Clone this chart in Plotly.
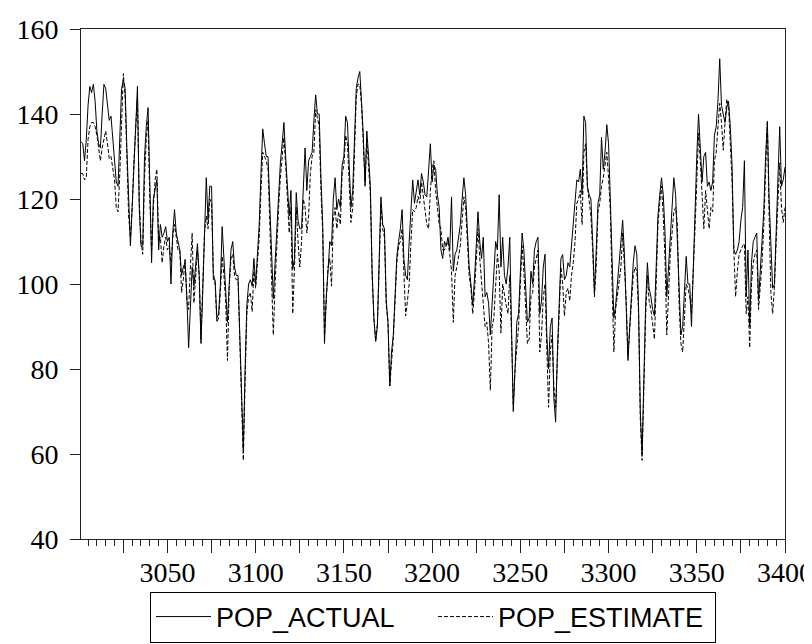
import plotly.graph_objects as go

obs = list(range(3001, 3401))

pop_actual = [
    133.5, 133, 129, 134, 142, 146.5, 145, 147, 143, 136,
    133, 132, 140, 147, 146, 142, 138.5, 139.5, 134, 130,
    124, 123, 135, 146, 148, 146, 132, 118, 109, 118,
    128, 138, 146.5, 118, 109, 109, 130, 137, 141.5, 124,
    105, 120, 122, 124.5, 108, 114, 111, 112, 113.5, 110,
    111, 100, 112, 117.5, 112, 110, 108, 102, 104, 105,
    97, 85, 95, 104, 99.5, 104, 109.5, 102, 86, 98,
    112, 125, 115, 123, 123, 101, 101, 92, 93, 100,
    113.5, 106, 100, 91, 100, 108, 110, 104, 102, 102,
    88, 72, 61, 80, 95, 100, 101, 99.5, 106, 100,
    107, 114, 126, 136.5, 133, 130, 130, 118, 106, 96.5,
    105, 114, 121, 128.5, 133, 138, 130, 122, 116, 122,
    103.5, 106, 121.5, 115, 113, 113, 123, 132, 122, 129,
    130, 131, 138.5, 144.5, 140, 140, 125, 114, 86, 97,
    103, 110, 109, 120, 125, 117.5, 120, 118, 128, 130,
    139.5, 138, 128, 118, 122, 134, 146, 148.5, 150, 143,
    135, 123, 136, 130, 123, 103, 92, 86.5, 90, 106,
    120.5, 114, 113, 96, 91, 76, 84, 88, 98, 106.5,
    110, 113, 117.5, 106, 102, 101, 110, 118, 124.5, 119,
    122, 124.5, 121, 126, 124, 121, 120.5, 128, 133, 124,
    128, 127, 121, 118, 108, 106, 110, 109, 111, 108,
    120.5, 103, 107, 108, 111, 114, 120, 125, 121, 112,
    104, 100, 95, 101, 110, 117, 110, 106, 111, 97,
    98, 95.5, 88, 96, 104, 110, 108, 121, 104, 111,
    102, 100, 104, 111, 90, 70, 80, 91, 93, 104,
    112, 108, 101, 91, 92, 103, 100, 108, 110, 111,
    93, 96, 104, 107, 88, 80, 90, 92, 73, 67.5,
    84, 98, 106, 106.9, 101, 102, 105, 104, 109, 113,
    119, 124.5, 124, 127, 121, 139.5, 138, 123, 121, 120,
    110, 98, 108, 119, 121, 134.5, 127, 131, 137.5, 133,
    120, 105, 92, 95, 100, 103, 108, 115, 107, 96,
    82, 90, 98, 105, 109, 107, 95, 70, 60, 80,
    95, 105, 99, 97, 94, 92.5, 106, 116, 121, 125,
    121, 112, 97, 104, 110, 116, 125, 121, 110, 96,
    88, 90, 100, 106.5, 100, 100, 90, 105, 120, 130,
    140, 132, 124, 130, 131, 123, 124, 122, 124, 135,
    137, 143, 153, 142, 140, 138, 141.5, 143, 137, 128,
    108, 107, 108, 110, 115, 118, 129, 97, 108, 90,
    105, 110, 111, 112, 96, 103, 108, 117.5, 130, 138,
    120, 108, 99, 100, 113, 122, 137, 123, 124.5, 127.5,
]

pop_estimate = [
    126, 126, 124.5, 125, 134, 137, 138, 138, 137, 135,
    132, 129, 132, 134.5, 136, 133, 129.5, 130, 127, 124.5,
    118, 117, 126, 140, 149.5, 144, 128, 116, 111, 118,
    129, 138, 144, 120, 110, 107, 125, 134, 138.5, 120,
    108, 118, 124.5, 127, 110, 111, 105, 109, 111, 108,
    109, 105, 111, 114, 111, 108, 108, 98, 101, 106,
    96, 94, 104, 112, 95.5, 101, 108, 102, 87, 100,
    112, 116, 113, 120, 119, 103, 100, 91, 92, 98,
    106.5, 102, 96, 82, 99, 106, 107, 102, 101, 101,
    86, 70, 58.5, 77, 93, 97, 98, 93.5, 103, 99,
    104, 111, 122, 131, 130, 129, 127, 115, 103, 88,
    100, 111, 118, 125, 130, 134.5, 128, 120, 112, 118,
    93, 104, 118, 110, 104, 110, 120, 118, 112, 116,
    126, 130, 131, 141, 138.5, 137, 122, 112, 88, 96,
    104, 106, 99.5, 115, 118, 113, 117, 114, 126, 128,
    135, 133, 125, 114.5, 118, 131, 144, 147, 147, 142,
    134, 124, 134, 128, 121, 102, 92, 86.5, 91, 104,
    119, 113, 111, 95, 91, 76, 82, 87, 96, 105,
    109, 110, 113, 104, 92.5, 96, 100, 110, 117.5, 117,
    118, 120.6, 119, 124, 121, 117, 114, 113, 122, 127,
    129, 122, 117.5, 114, 113, 108, 108, 109, 110, 107,
    103, 91, 102, 104, 107, 109, 115, 120.5, 118, 110,
    102, 99, 93, 98, 107, 113, 106, 101, 95, 90,
    91, 86, 75, 90, 92, 99, 107, 103, 88.5, 100,
    97, 95, 93, 102, 88, 71.5, 80, 86, 90, 100,
    109, 103, 96, 86, 87, 97, 98, 104, 106, 108,
    84, 88, 97, 100, 85, 71, 84, 88, 76, 71,
    82, 96, 104, 100, 92.5, 98, 99, 96, 102, 105,
    110, 119, 120, 122, 114, 131, 133, 123, 119, 116,
    108, 97, 104, 117, 119, 123, 125, 128, 131, 125,
    117, 100, 84, 94, 97, 100, 104, 112, 103, 96,
    83, 89, 96, 102, 104, 103, 93, 68, 58.5, 77,
    92, 102, 96, 94, 91, 87, 100, 114, 119, 123,
    116, 106, 88, 98, 107, 112, 117, 118, 114, 95,
    86, 84, 93, 100, 99, 97, 93, 102, 113, 124,
    135.5, 129, 120, 113, 122, 118, 113, 118, 117, 129,
    131, 137, 142.5, 138, 131.5, 138, 143.5, 142, 134, 124,
    108, 97, 103, 107, 108, 109, 109.5, 93, 97, 85,
    100, 105, 107, 108, 94, 100, 105, 114, 128, 138.5,
    116, 98, 93, 99, 110, 120, 128.5, 118, 114.5, 118,
]

x_tickvals = list(range(3025, 3401, 25))
x_ticktext = [str(v) if v % 50 == 0 else "" for v in x_tickvals]
y_tickvals = [40, 60, 80, 100, 120, 140, 160]

fig = go.Figure()
fig.add_trace(go.Scatter(
    x=obs, y=pop_actual, mode="lines", name="POP_ACTUAL",
    line=dict(color="#000000", width=1),
))
fig.add_trace(go.Scatter(
    x=obs, y=pop_estimate, mode="lines", name="POP_ESTIMATE",
    line=dict(color="#000000", width=1, dash="4px,2px"),
))

serif = "Liberation Serif, Times New Roman, serif"
fig.update_layout(
    width=812, height=644,
    margin=dict(l=73, r=35, t=21, b=113, autoexpand=False),
    paper_bgcolor="white", plot_bgcolor="white",
    showlegend=True,
    legend=dict(
        orientation="h", x=0.5, xanchor="center", y=-0.203, yanchor="bottom",
        bordercolor="#000000", borderwidth=1,
        font=dict(family="Liberation Sans, Arial, sans-serif", size=27, color="#000000"),
        itemwidth=55, tracegroupgap=0,
        entrywidthmode="pixels", entrywidth=212,
    ),
    xaxis=dict(
        range=[3001, 3400], showgrid=False, zeroline=False, automargin=False,
        showline=True, linecolor="#222222", linewidth=1, mirror=True,
        tickmode="array", tickvals=x_tickvals, ticktext=x_ticktext,
        ticks="outside", ticklen=13, tickcolor="#222222", tickwidth=1,
        ticklabelstandoff=-5,
        minor=dict(tickmode="linear", tick0=3000, dtick=5, ticks="outside",
                   ticklen=6, tickcolor="#222222", tickwidth=1, showgrid=False),
        tickfont=dict(family=serif, size=28, color="#000000"),
    ),
    yaxis=dict(
        range=[40, 160], showgrid=False, zeroline=False, automargin=False,
        showline=True, linecolor="#222222", linewidth=1, mirror=True,
        tickmode="array", tickvals=y_tickvals,
        ticks="outside", ticklen=10, tickcolor="#222222", tickwidth=1,
        ticklabelstandoff=6,
        tickfont=dict(family=serif, size=28, color="#000000"),
    ),
)

fig.write_html("out.html")
